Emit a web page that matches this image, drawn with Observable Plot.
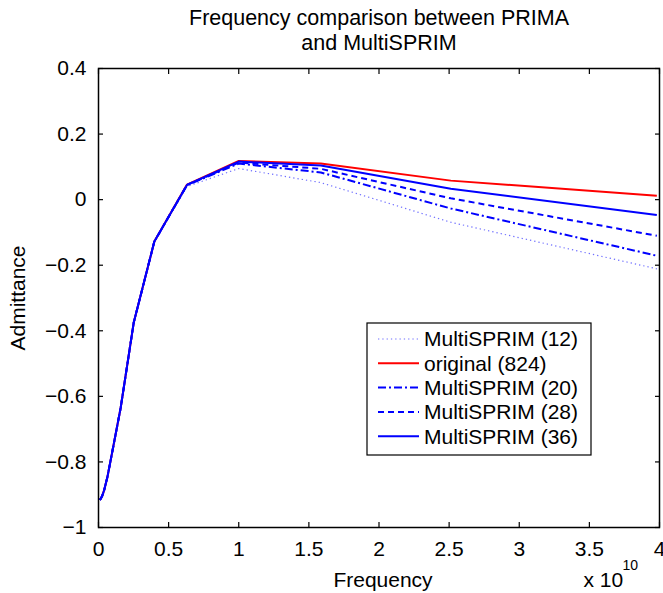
<!DOCTYPE html>
<html><head><meta charset="utf-8">
<script src="https://cdn.jsdelivr.net/npm/d3@7"></script>
<script src="https://cdn.jsdelivr.net/npm/@observablehq/plot@0.6"></script>
<style>
body{margin:0;background:#fff;}
#wrap{position:relative;width:663px;height:593px;overflow:hidden;background:#fff;font-family:"Liberation Sans",Arial,Helvetica,sans-serif;}
#legend{position:absolute;left:366px;top:322px;}
</style></head><body><div id="wrap"></div>
<script>
// ---- data ----
const freq = [1e8, 1.585e8, 2.512e8, 3.981e8, 6.31e8, 1e9, 1.585e9, 2.512e9, 3.981e9, 6.31e9, 1e10, 1.585e10, 2.512e10, 3.981e10];
const multi12  = [-0.916, -0.912, -0.905, -0.887, -0.847, -0.765, -0.634, -0.375, -0.128, 0.040, 0.095, 0.052, -0.069, -0.211];
const original = [-0.916, -0.912, -0.905, -0.887, -0.847, -0.765, -0.634, -0.375, -0.128, 0.046, 0.118, 0.110, 0.058, 0.012];
const multi20  = [-0.916, -0.912, -0.905, -0.887, -0.847, -0.765, -0.634, -0.375, -0.128, 0.044, 0.110, 0.083, -0.027, -0.171];
const multi28  = [-0.916, -0.912, -0.905, -0.887, -0.847, -0.765, -0.634, -0.375, -0.128, 0.045, 0.113, 0.094, 0.004, -0.110];
const multi36  = [-0.916, -0.912, -0.905, -0.887, -0.847, -0.765, -0.634, -0.375, -0.128, 0.045, 0.116, 0.104, 0.033, -0.047];
const seriesNames = ["MultiSPRIM (12)", "original (824)", "MultiSPRIM (20)", "MultiSPRIM (28)", "MultiSPRIM (36)"];
const xTicks = [0, 0.5e10, 1e10, 1.5e10, 2e10, 2.5e10, 3e10, 3.5e10, 4e10];
const xTickLabels = ["0", "0.5", "1", "1.5", "2", "2.5", "3", "3.5", "4"];
const yTicks = [-1, -0.8, -0.6, -0.4, -0.2, 0, 0.2, 0.4];
const yTickLabels = ["\u22121", "\u22120.8", "\u22120.6", "\u22120.4", "\u22120.2", "0", "0.2", "0.4"];
const titleText = "Frequency comparison between PRIMA\nand MultiSPRIM";
const xLabel = "Frequency";
const yLabel = "Admittance";
const xExpBase = "x 10";
const xExp = "10";

// ---- styles ----
const seriesValues = [multi12, original, multi20, multi28, multi36];
const styles = [
  {stroke: "#6f6fff", width: 1.2, dash: "1.3,3"},
  {stroke: "#ff0000", width: 2, dash: null},
  {stroke: "#0000ff", width: 2, dash: "8,3,2,3"},
  {stroke: "#0000ff", width: 2, dash: "6,4"},
  {stroke: "#0000ff", width: 2, dash: null}
];
const FONT = "'Liberation Sans', Arial, Helvetica, sans-serif";

const rows = [];
seriesNames.forEach((name, s) => seriesValues[s].forEach((v, i) => rows.push({series: name, f: freq[i], y: v})));

const lineMarks = seriesNames.map((name, s) => Plot.line(rows.filter(r => r.series === name), {
  x: "f", y: "y", stroke: styles[s].stroke, strokeWidth: styles[s].width,
  strokeDasharray: styles[s].dash, strokeLinejoin: "round", strokeLinecap: "butt"
}));

const chart = Plot.plot({
  width: 663, height: 593,
  marginTop: 68, marginBottom: 66, marginLeft: 98, marginRight: 4,
  style: {fontSize: "21px", fontFamily: FONT, background: "#fff", color: "#000", overflow: "visible"},
  x: {domain: [0, 4e10], label: null},
  y: {domain: [-1, 0.4], label: null},
  marks: [
    ...lineMarks,
    Plot.frame({stroke: "#000", strokeWidth: 1.5}),
    Plot.axisX({anchor: "bottom", ticks: xTicks, tickSize: -5, tickFormat: () => "", label: null, strokeWidth: 1.2}),
    Plot.axisX({anchor: "top", ticks: xTicks, tickSize: -5, tickFormat: () => "", label: null, strokeWidth: 1.2}),
    Plot.axisY({anchor: "left", ticks: yTicks, tickSize: -5, tickFormat: () => "", label: null, strokeWidth: 1.2}),
    Plot.axisY({anchor: "right", ticks: yTicks, tickSize: -5, tickFormat: () => "", label: null, strokeWidth: 1.2}),
    Plot.axisX({anchor: "bottom", ticks: xTicks, tickSize: 0, tickPadding: 14, tickFormat: d => xTickLabels[xTicks.indexOf(d)], label: null, fill: "#000"}),
    Plot.axisY({anchor: "left", ticks: yTicks, tickSize: 0, tickPadding: 12, tickFormat: d => yTickLabels[yTicks.indexOf(d)], label: null, fill: "#000"}),
    Plot.text([titleText], {frameAnchor: "top", lineAnchor: "middle", dy: -38.7, lineHeight: 1.15, fontSize: 21.5, fill: "#000"}),
    Plot.text([xLabel], {frameAnchor: "bottom", lineAnchor: "middle", dy: 53, dx: 4, fill: "#000"}),
    Plot.text([xExpBase], {frameAnchor: "bottom-right", lineAnchor: "middle", textAnchor: "start", dx: -76, dy: 53, fill: "#000"}),
    Plot.text([xExp], {frameAnchor: "bottom-right", lineAnchor: "middle", textAnchor: "start", dx: -37, dy: 38, fontSize: 14, fill: "#000"}),
    Plot.text([yLabel], {frameAnchor: "left", lineAnchor: "middle", textAnchor: "middle", rotate: -90, dx: -80.5, fill: "#000"})
  ]
});
const wrap = document.getElementById("wrap");
wrap.appendChild(chart);

// ---- legend (line-style swatches) ----
const lw = 224, lh = 132, rowH = 24.3, row0 = 16;
const leg = d3.select(wrap).append("svg").attr("id", "legend")
  .attr("width", lw + 2).attr("height", lh + 2)
  .style("font-family", FONT).style("font-size", "21px");
leg.append("rect").attr("x", 1).attr("y", 1).attr("width", lw).attr("height", lh)
  .attr("fill", "#fff").attr("stroke", "#000").attr("stroke-width", 1.2);
seriesNames.forEach((name, s) => {
  const cy = 1 + row0 + s * rowH;
  leg.append("line").attr("x1", 12).attr("x2", 53).attr("y1", cy).attr("y2", cy)
    .attr("stroke", styles[s].stroke).attr("stroke-width", styles[s].width)
    .attr("stroke-dasharray", styles[s].dash);
  leg.append("text").attr("x", 58).attr("y", cy).attr("dy", "0.35em").attr("fill", "#000").text(name);
});
</script></body></html>
